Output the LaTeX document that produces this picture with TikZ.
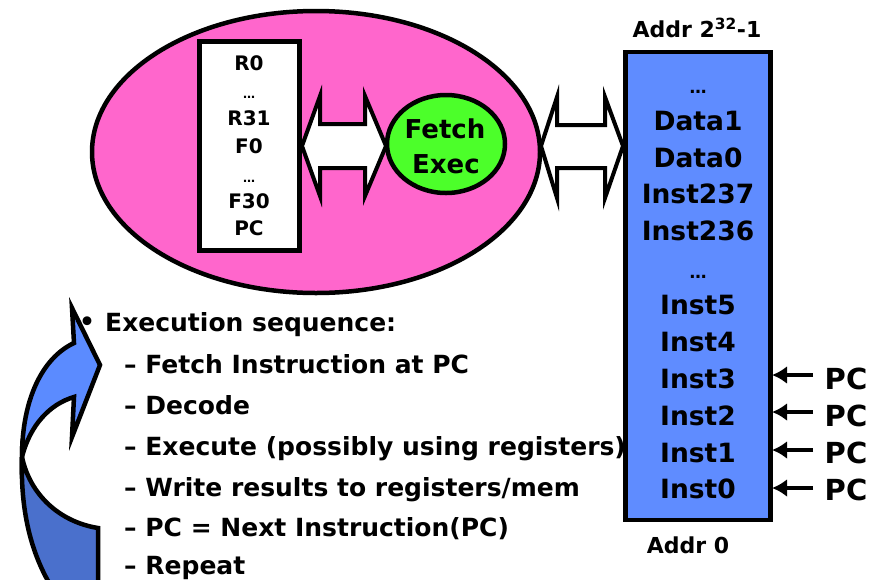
\documentclass[tikz,border=0pt]{standalone}
\usepackage{fontspec}
\setmainfont{DejaVu Sans}
\usetikzlibrary{arrows.meta,shapes.geometric}
\definecolor{cpupink}{HTML}{FF66CC}
\definecolor{fegreen}{HTML}{4CFF2A}
\definecolor{memblue}{HTML}{5F8CFF}
\definecolor{arrlight}{HTML}{5B8BFF}
\definecolor{arrdark}{HTML}{4A70CC}
\tikzset{
  txt/.style={inner sep=0pt, font=\bfseries},
  regtxt/.style={txt, font=\bfseries\fontsize{20}{20}\selectfont, anchor=base},
  regdots/.style={txt, font=\bfseries\fontsize{12}{12}\selectfont, anchor=base},
  memtxt/.style={txt, font=\bfseries\fontsize{26.5}{26.5}\selectfont, anchor=base},
  memdots/.style={txt, font=\bfseries\fontsize{17}{17}\selectfont, anchor=base},
  listtxt/.style={txt, font=\bfseries\fontsize{25}{25}\selectfont, anchor=base west},
  pctxt/.style={txt, font=\bfseries\fontsize{29}{29}\selectfont, anchor=base},
  addrtxt/.style={txt, font=\bfseries\fontsize{22}{22}\selectfont, anchor=base},
  fetxt/.style={txt, font=\bfseries\fontsize{26}{26}\selectfont, anchor=base},
  thick line/.style={line width=4.5pt, line join=miter},
  round line/.style={line width=4.5pt},
  blockarrow/.style={draw=black, fill=white, line width=4pt, line join=miter},
  pcarrow/.style={line width=4.5pt, -{Latex[length=15pt,width=18pt]}},
}
\begin{document}
\begin{tikzpicture}[x=1pt,y=-1pt]
\useasboundingbox (0,0) rectangle (882,579);

% CPU ellipse
\node[ellipse, draw, round line, fill=cpupink, minimum width=448pt, minimum height=282pt, inner sep=0pt] (cpu) at (316,152) {};

% register file
\node[draw, thick line, fill=white, minimum width=100pt, minimum height=209pt, inner sep=0pt] (regs) at (249.5,146) {};
\node[regtxt]  (r0)  at (249,70)  {R0};
\node[regdots] (rd1) at (249,98)  {…};
\node[regtxt]  (r31) at (249,125) {R31};
\node[regtxt]  (f0)  at (249,153) {F0};
\node[regdots] (rd2) at (249,182) {…};
\node[regtxt]  (f30) at (249,208) {F30};
\node[regtxt]  (rpc) at (249,235) {PC};

% fetch/exec circle
\node[ellipse, draw, round line, fill=fegreen, minimum width=118pt, minimum height=98pt, inner sep=0pt] (fe) at (446,144) {};
\node[fetxt] (fetch) at (445,138) {Fetch};
\node[fetxt] (exec)  at (446,173) {Exec};

% double block arrows
\draw[blockarrow] (302,146) -- (320,96) -- (320,124) -- (365,124) -- (365,96) -- (386,146)
  -- (365,196) -- (365,168) -- (320,168) -- (320,196) -- cycle;
\draw[blockarrow] (541,146) -- (557,97) -- (557,125) -- (605,125) -- (605,97) -- (623,146)
  -- (605,198) -- (605,168) -- (557,168) -- (557,198) -- cycle;

% memory
\node[draw, thick line, fill=memblue, minimum width=145pt, minimum height=468pt, inner sep=0pt] (mem) at (698,286) {};
\node[addrtxt] (atop) at (697,37) {Addr 2\textsuperscript{32}-1};
\node[addrtxt] (abot) at (688,553) {Addr 0};
\node[memdots] (m1)  at (698,93)  {…};
\node[memtxt] (m2)  at (698,130) {Data1};
\node[memtxt] (m3)  at (698,167) {Data0};
\node[memtxt] (m4)  at (698,203) {Inst237};
\node[memtxt] (m5)  at (698,240) {Inst236};
\node[memdots] (m6)  at (698,278) {…};
\node[memtxt] (m7)  at (698,314) {Inst5};
\node[memtxt] (m8)  at (698,351) {Inst4};
\node[memtxt] (m9)  at (698,388) {Inst3};
\node[memtxt] (m10) at (698,425) {Inst2};
\node[memtxt] (m11) at (698,462) {Inst1};
\node[memtxt] (m12) at (698,498) {Inst0};

% PC pointers
\node[pctxt] (pc3) at (846,389) {PC};
\node[pctxt] (pc2) at (846,426) {PC};
\node[pctxt] (pc1) at (846,463) {PC};
\node[pctxt] (pc0) at (846,500) {PC};
\coordinate (s3) at (813,375); \coordinate (e3) at (772,375);
\coordinate (s2) at (813,412); \coordinate (e2) at (772,412);
\coordinate (s1) at (813,450); \coordinate (e1) at (772,450);
\coordinate (s0) at (813,488); \coordinate (e0) at (772,488);
\draw[pcarrow] (s3) -- (e3);
\draw[pcarrow] (s2) -- (e2);
\draw[pcarrow] (s1) -- (e1);
\draw[pcarrow] (s0) -- (e0);

% execution sequence list
\node[listtxt] (bul) at (79,330) {•};
\node[listtxt] (l0) at (105,331) {Execution sequence:};
\node[listtxt] (l1) at (124,373) {– Fetch Instruction at PC};
\node[listtxt] (l2) at (124,414) {– Decode};
\node[listtxt] (l3) at (124,455) {– Execute (possibly using registers)};
\node[listtxt] (l4) at (124,496) {– Write results to registers/mem};
\node[listtxt] (l5) at (124,536) {– PC = Next Instruction(PC)};
\node[listtxt] (l6) at (124,574) {– Repeat};

% curved arrow (loop)
\begin{scope}
\clip (0,0) rectangle (882,579);
\draw[round line, line join=miter, fill=arrdark] (22,457) .. controls (20,520) and (35,565) .. (60,600)
  -- (98,600) -- (98,528) .. controls (60,522) and (30,495) .. (22,457) -- cycle;
\draw[round line, line join=miter, fill=arrlight] (74,343) .. controls (42,358) and (22,400) .. (22,457)
  .. controls (30,425) and (50,404) .. (74,397) -- (72,437) -- (100,365) -- (72,308) -- cycle;
\end{scope}
\end{tikzpicture}
\end{document}
